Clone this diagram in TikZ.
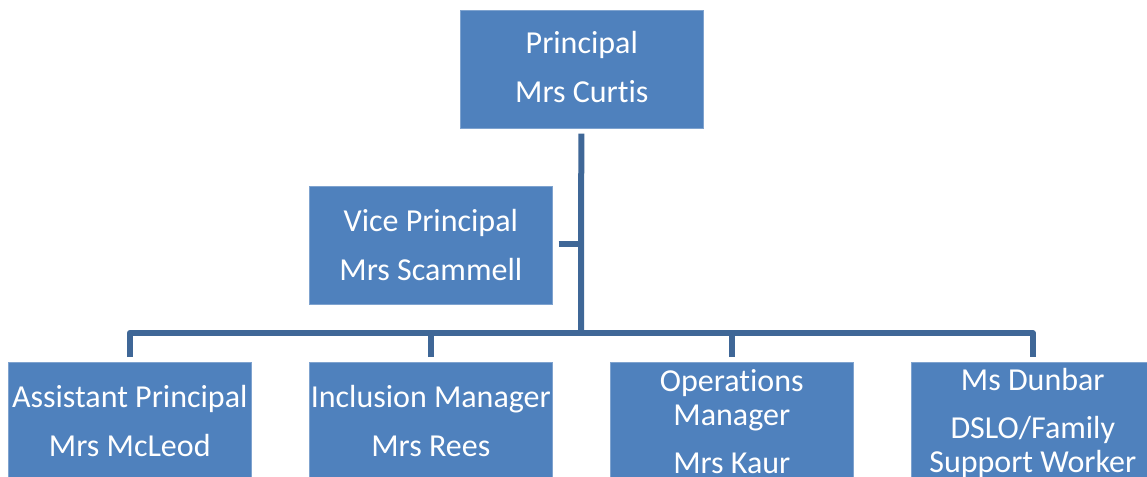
\documentclass[tikz,border=0pt]{standalone}
\usepackage{fontspec}
\setmainfont[Ligatures=NoCommon]{Carlito}
\definecolor{boxfill}{HTML}{4F81BD}
\definecolor{boxedge}{HTML}{7FA3CF}
\definecolor{linkcol}{HTML}{3F6797}
\tikzset{
  person/.style={anchor=north west,draw=boxedge,line width=0.6pt,fill=boxfill,text=white,
    minimum width=243pt,minimum height=118pt,inner sep=0pt,align=center,
    font=\fontsize{32}{34}\selectfont},
  link/.style={draw=linkcol,line width=6pt,line join=round}
}
\begin{document}
\begin{tikzpicture}[x=1pt,y=-1pt]
\useasboundingbox (0,0) rectangle (1147,476);
\clip (0,0) rectangle (1147,476);
\node[person] (principal) at (460,10) {Principal\\[15pt]Mrs Curtis\\[-30pt]\mbox{}};
\node[person] (vice) at (309,186) {Vice Principal\\[15pt]Mrs Scammell};
\node[person] (assistant) at (8,362) {Assistant Principal\\[15pt]Mrs McLeod};
\node[person] (inclusion) at (309,362) {Inclusion Manager\\[15pt]Mrs Rees};
\node[person] (operations) at (610,362) {Operations\\Manager\\[14pt]Mrs Kaur};
\node[person,minimum height=122pt] (dunbar) at (911,362) {Ms Dunbar\\[14pt]DSLO/Family\\Support Worker};
\coordinate (bus) at (581,333);
\coordinate (vjoin) at (581,244);
\draw[link] ([xshift=-0.5pt,yshift=-5pt]principal.south) -- (bus);
\draw[link] ([xshift=6pt]vice.east |- vjoin) -- (vjoin);
\draw[link] ([yshift=5pt]assistant.north) |- (bus) -| ([yshift=5pt]dunbar.north);
\draw[link] ([yshift=5pt]inclusion.north) -- (inclusion.north |- bus);
\draw[link] ([yshift=5pt]operations.north) -- (operations.north |- bus);
\end{tikzpicture}
\end{document}
